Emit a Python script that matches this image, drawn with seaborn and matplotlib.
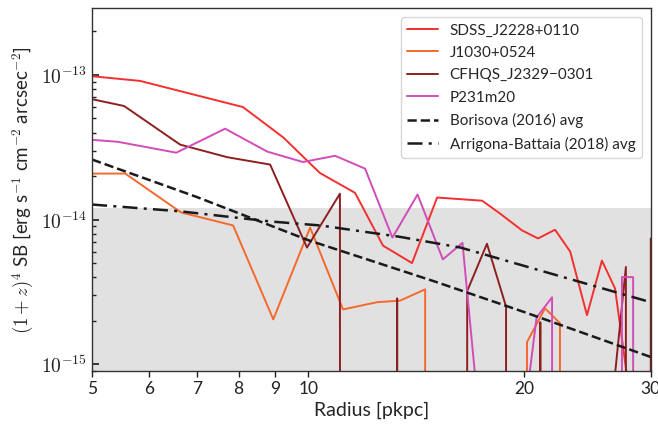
import math
import pandas as pd
import matplotlib
matplotlib.use('Agg')
import matplotlib.pyplot as plt
import matplotlib.ticker as ticker
import seaborn as sns

# radius [pkpc] and (1+z)^4 SB values; 0 = no detection (drops off the log axis)
sdss_r = [5.0, 5.83, 8.11, 9.23, 10.38, 11.62, 12.71, 13.95, 15.12, 17.47, 18.5, 19.86,
          20.9, 22.07, 23.17, 24.45, 25.65, 26.75, 27.8, 29.0]
sdss_sb = [9.8e-14, 9.1e-14, 6.0e-14, 3.7e-14, 2.1e-14, 1.53e-14, 6.6e-15, 5.0e-15, 1.42e-14,
           1.35e-14, 1.10e-14, 8.4e-15, 7.4e-15, 8.5e-15, 6.0e-15, 2.18e-15, 5.2e-15, 3.34e-15,
           8.3e-16, 0]

j1030_r = [5.0, 5.56, 6.65, 7.86, 8.94, 10.06, 11.18, 12.47, 13.43, 14.55, 15.7, 19.0,
           20.17, 21.37, 22.42, 23.5]
j1030_sb = [2.08e-14, 2.08e-14, 1.12e-14, 9.1e-15, 2.04e-15, 8.8e-15, 2.39e-15, 2.68e-15,
            2.75e-15, 3.29e-15, 0, 0, 1.42e-15, 2.43e-15, 1.92e-15, 0]

cfhqs_r = [5.0, 5.54, 6.63, 7.71, 8.85, 9.96, 11.07, 12.2, 13.3, 14.4, 15.5, 16.65, 17.74,
           18.86, 19.9, 21.05, 22.2, 25.6, 26.75, 27.7, 28.8, 30.0]
cfhqs_sb = [6.8e-14, 6.1e-14, 3.3e-14, 2.7e-14, 2.4e-14, 6.4e-15, 1.51e-14, 0, 2.85e-15, 0, 0,
            3.2e-15, 6.8e-15, 2.5e-15, 0, 1.95e-15, 0, 0, 8.5e-16, 4.7e-15, 0, 7.4e-15]

p231_r = [5.0, 5.43, 6.55, 7.66, 8.77, 9.83, 10.9, 12.0, 13.1, 14.2, 15.4, 16.4, 17.08, 18.2,
          19.6, 20.3, 20.8, 21.86, 23.0, 26.3, 27.35, 28.35, 29.4]
p231_sb = [3.56e-14, 3.45e-14, 2.9e-14, 4.25e-14, 2.95e-14, 2.5e-14, 2.76e-14, 2.25e-14,
           7.5e-15, 1.49e-14, 5.3e-15, 6.9e-15, 8.3e-16, 0, 0, 8.0e-16, 2.1e-15, 2.9e-15, 0, 0,
           4.0e-15, 4.0e-15, 0]

borisova_r = [5.0, 7.0, 10.0, 15.0, 20.0, 30.0]
borisova_sb = [2.6e-14, 1.43e-14, 7.2e-15, 3.73e-15, 2.29e-15, 1.12e-15]

ab_r = [5.0, 6.63, 8.85, 10.4, 13.4, 16.3, 21.7, 30.0]
ab_sb = [1.27e-14, 1.14e-14, 9.7e-15, 9.1e-15, 7.6e-15, 6.4e-15, 4.25e-15, 2.68e-15]

sb_limit = 1.2e-14

names = ['SDSS_J2228+0110', 'J1030+0524', 'CFHQS_J2329\u22120301', 'P231m20']
colors = ['#f2302f', '#f4692e', '#8e1f20', '#d24cb8']
series = [(sdss_r, sdss_sb), (j1030_r, j1030_sb), (cfhqs_r, cfhqs_sb), (p231_r, p231_sb)]

frames = []
for name, (r, sb) in zip(names, series):
    frames.append(pd.DataFrame({'Radius': r, 'SB': sb, 'Quasar': name}))
df = pd.concat(frames, ignore_index=True)

sns.set_theme(style='ticks')
plt.rcParams['font.family'] = ['Lato', 'DejaVu Sans']
plt.rcParams['mathtext.fontset'] = 'cm'

fig = plt.figure(figsize=(6.58, 4.28), dpi=100)
ax = fig.add_axes([0.14, 0.133, 0.849, 0.848])

ax.axhspan(1e-17, sb_limit, color='#e1e1e1', zorder=0, lw=0)

# plot in linear space first, log scale applied afterwards so zeros clip down off the axis
sns.lineplot(data=df, x='Radius', y='SB', hue='Quasar', palette=dict(zip(names, colors)),
             estimator=None, sort=False, lw=1.4, ax=ax)
sns.lineplot(x=borisova_r, y=borisova_sb, color='k', ls='--', lw=1.8, ax=ax,
             label='Borisova (2016) avg')
sns.lineplot(x=ab_r, y=ab_sb, color='k', ls=(0, (6, 2.5, 1.2, 2.5)), lw=1.8, ax=ax,
             label='Arrigona-Battaia (2018) avg')

ax.set_xscale('log')
ax.set_yscale('log')
ax.set_xlim(5, 30)
ax.set_ylim(8.95e-16, 2.9e-13)

ax.set_xticks([5, 6, 7, 8, 9, 10, 20, 30])
ax.xaxis.set_major_formatter(ticker.FormatStrFormatter('%d'))
ax.xaxis.set_minor_locator(ticker.NullLocator())
ax.yaxis.set_major_formatter(ticker.FuncFormatter(lambda v, p: r'$10^{%d}$' % round(math.log10(v))))
ax.tick_params(axis='x', direction='out', labelsize=12.5, length=4, width=1, colors='#222222')
ax.tick_params(axis='y', which='both', direction='in', labelsize=14, colors='#222222')
ax.tick_params(axis='y', which='major', length=5)
ax.tick_params(axis='y', which='minor', length=3)
for s in ax.spines.values():
    s.set_color('#333333')
    s.set_linewidth(1.0)
    s.set_visible(True)

ax.set_xlabel('Radius [pkpc]', fontsize=14, labelpad=3)
ax.set_ylabel(r'$(1+z)^4$ SB [erg s$^{-1}$ cm$^{-2}$ arcsec$^{-2}$]', fontsize=13.5, labelpad=4)

handles, labels = ax.get_legend_handles_labels()
ax.legend(handles, labels, loc='upper right', fontsize=11, frameon=True, fancybox=True,
          framealpha=0.8, edgecolor='#cccccc', handlelength=2.0, labelspacing=0.55,
          borderaxespad=0.6, title=None)

fig.savefig('out.png', dpi=100)
